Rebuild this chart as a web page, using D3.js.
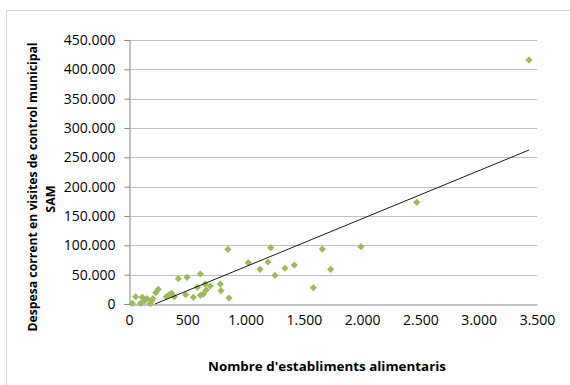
<!DOCTYPE html>
<html>
<head>
<meta charset="utf-8">
<script src="https://cdn.jsdelivr.net/npm/d3@7/dist/d3.min.js"></script>
<style>
  html, body { margin: 0; padding: 0; background: #fff; }
  svg { display: block; }
</style>
</head>
<body>
<svg id="chart" width="570" height="385"></svg>
<script>
// ---- Data ----
const establiments = [28, 57, 100, 114, 137, 154, 183, 195, 206, 229, 251, 320, 343, 366, 389,
  423, 498, 486, 552, 586, 612, 612, 637, 654, 663, 697, 783, 789, 858, 848,
  1023, 1124, 1192, 1215, 1252, 1338, 1418, 1581, 1658, 1730, 1990, 2468, 3431];
const despesa = [1200, 12400, 1200, 11400, 5600, 9000, 500, 5600, 9000, 19300, 25000, 12400, 15800, 18200, 12400,
  43100, 45500, 15800, 11400, 28500, 51100, 14800, 17000, 34000, 23900, 30700, 34000, 22700, 10200, 93200,
  70400, 59100, 71600, 96000, 48900, 60900, 66500, 27800, 93700, 59100, 97700, 173300, 415900];
const xTicks = [0, 500, 1000, 1500, 2000, 2500, 3000, 3500];
const yTicks = [0, 50000, 100000, 150000, 200000, 250000, 300000, 350000, 400000, 450000];
const trendSlope = 81.8;       // linear trendline y = a*x + b
const trendIntercept = -18250;
const xTitle = "Nombre d'establiments alimentaris";
const yTitleLines = ["Despesa corrent en visites de control municipal", "SAM"];

// ---- Layout ----
const svg = d3.select("#chart");
const pLeft = 129, pRight = 537, pTop = 40, pBottom = 304;
const FONT = "'Open Sans', 'Liberation Sans', sans-serif";

const x = d3.scaleLinear().domain([0, 3500]).range([pLeft, pRight]);
const y = d3.scaleLinear().domain([0, 450000]).range([pBottom, pTop]);
const fmt = v => d3.format(",")(v).replace(/,/g, ".");

// chart border
svg.append("rect").attr("x", 6.5).attr("y", 10.5).attr("width", 600).attr("height", 400)
  .attr("fill", "none").attr("stroke", "#D9D9D9").attr("stroke-width", 1);

// gridlines
svg.append("g").selectAll("line").data(yTicks.filter(d => d > 0)).join("line")
  .attr("x1", pLeft).attr("x2", pRight)
  .attr("y1", d => Math.round(y(d)) + 0.5).attr("y2", d => Math.round(y(d)) + 0.5)
  .attr("stroke", "#BFBFBF").attr("stroke-width", 1);

// y axis
const yAxis = svg.append("g").attr("transform", `translate(${pLeft + 0.5},0)`)
  .call(d3.axisLeft(y).tickValues(yTicks).tickFormat(fmt).tickSize(5).tickPadding(9));
yAxis.select(".domain").attr("stroke", "#868686");
yAxis.selectAll(".tick line").attr("stroke", "#868686");
yAxis.selectAll("text").attr("font-family", FONT).attr("font-size", 14).attr("fill", "#000");

// x axis
const xAxis = svg.append("g").attr("transform", `translate(0,${pBottom + 0.5})`)
  .call(d3.axisBottom(x).tickValues(xTicks).tickFormat(fmt).tickSize(0).tickPadding(11));
xAxis.select(".domain").attr("stroke", "#868686");
xAxis.selectAll("text").attr("font-family", FONT).attr("font-size", 14).attr("fill", "#000");

// points
const pts = establiments.map((v, i) => ({ x: v, y: despesa[i] }));
const r = 3.6;
svg.append("g").selectAll("path").data(pts).join("path")
  .attr("d", `M0,${-r}L${r},0L0,${r}L${-r},0Z`)
  .attr("transform", d => `translate(${x(d.x)},${y(d.y)})`)
  .attr("fill", "#9BBB59");

// trendline (clipped at y = 0)
const xmin = d3.min(establiments), xmax = d3.max(establiments);
const xStart = Math.max(xmin, -trendIntercept / trendSlope);
svg.append("line")
  .attr("x1", x(xStart)).attr("y1", y(trendSlope * xStart + trendIntercept))
  .attr("x2", x(xmax)).attr("y2", y(trendSlope * xmax + trendIntercept))
  .attr("stroke", "#000").attr("stroke-width", 0.9);

// titles
svg.append("text").attr("x", 327).attr("y", 371).attr("text-anchor", "middle")
  .attr("font-family", FONT).attr("font-weight", "bold").attr("font-size", 12.5)
  .attr("textLength", 238).attr("lengthAdjust", "spacingAndGlyphs")
  .text(xTitle);

const yt = svg.append("g").attr("transform", "translate(0,187) rotate(-90)");
yt.append("text").attr("x", 0).attr("y", 37).attr("text-anchor", "middle")
  .attr("font-family", FONT).attr("font-weight", "bold").attr("font-size", 12.5)
  .attr("textLength", 289).attr("lengthAdjust", "spacingAndGlyphs")
  .text(yTitleLines[0]);
yt.append("text").attr("x", -12).attr("y", 55).attr("text-anchor", "middle")
  .attr("font-family", FONT).attr("font-weight", "bold").attr("font-size", 12.5)
  .text(yTitleLines[1]);
</script>
</body>
</html>
